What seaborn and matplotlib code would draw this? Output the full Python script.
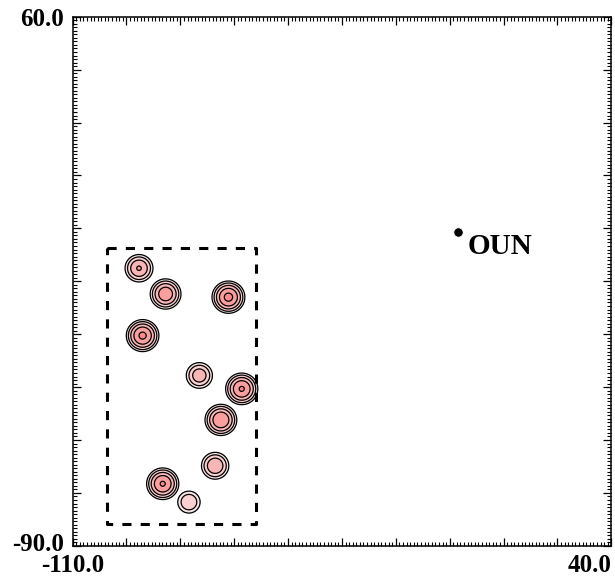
import numpy as np
import seaborn as sns
import matplotlib.pyplot as plt
import matplotlib.transforms as mtransforms
from matplotlib.ticker import MultipleLocator

# storm cells (x, y in km from radar) and peak contour level
cell_x = [-91.5, -84.1, -66.6, -90.5, -74.7, -62.9, -68.7, -70.3, -84.9, -77.6]
cell_y = [-11.3, -18.6, -19.5, -30.4, -41.7, -45.5, -54.3, -67.3, -72.4, -77.6]
cell_peak = [3.08, 3.75, 4.27, 4.2, 2.7, 4.1, 4.0, 2.95, 4.1, 1.97]

# analysis box
box_x = [-100.5, -59.0, -59.0, -100.5, -100.5]
box_y = [-5.6, -5.6, -83.8, -83.8, -5.6]

# radar site
radar_x = [-2.8]
radar_y = [-0.9]
radar_name = "OUN"

x_ticks = list(range(-110, 41, 15))
y_ticks = list(range(-90, 61, 15))

sns.set_style("white")
plt.rcParams.update({
    "font.family": ["Liberation Serif", "DejaVu Serif"],
    "font.weight": "bold",
    "text.color": "black",
    "xtick.color": "black", "ytick.color": "black",
    "xtick.labelcolor": "black", "ytick.labelcolor": "black",
})

fig = plt.figure(figsize=(6.15, 5.77), dpi=100)
ax = fig.add_axes([0.118, 0.054, 0.876, 0.917])

# contour field: each cell falls off quadratically from its peak
gx, gy = np.meshgrid(np.arange(-106, -50, 0.05), np.arange(-88, 0, 0.05))
field = np.full(gx.shape, -10.0)
for cx, cy, p in zip(cell_x, cell_y, cell_peak):
    d2 = (gx - cx) ** 2 + (gy - cy) ** 2
    field = np.maximum(field, p - d2 / 4.9)

fills = ["#f6e6e6", "#fbd0d0", "#f9b6b6", "#fb9e9e", "#ff8b8b"]
ax.contourf(gx, gy, field, levels=[0, 1, 2, 3, 4, 5], colors=fills)
ax.contour(gx, gy, field, levels=[0, 1, 2, 3, 4], colors="black", linewidths=0.9)

ax.plot(box_x, box_y, color="black", linestyle=(0, (3, 3)), linewidth=2.2)

sns.scatterplot(x=radar_x, y=radar_y, color="black", s=45, ax=ax, zorder=5)
ax.annotate(radar_name, (radar_x[0], radar_y[0]), xytext=(7, -11),
            textcoords="offset points", ha="left", va="center",
            fontsize=21, fontweight="bold", color="black")

ax.set_xlim(-110, 40)
ax.set_ylim(-90, 60)
ax.set_xticks(x_ticks, [f"{x_ticks[0]:.1f}"] + [""] * (len(x_ticks) - 2) + [f"{x_ticks[-1]:.1f}"])
ax.set_yticks(y_ticks, [f"{y_ticks[0]:.1f}"] + [""] * (len(y_ticks) - 2) + [f"{y_ticks[-1]:.1f}"])
ax.xaxis.set_minor_locator(MultipleLocator(1))
ax.yaxis.set_minor_locator(MultipleLocator(1))
ax.xaxis.get_majorticklabels()[-1].set_horizontalalignment("right")

ax.tick_params(which="both", direction="in", top=True, right=True,
               bottom=True, left=True, color="black", labelsize=18)
ax.tick_params(which="major", length=5.5, width=0.9)
ax.tick_params(which="minor", length=3, width=0.8)
ax.tick_params(axis="x", pad=6)
ax.tick_params(axis="y", pad=6)
for s in ax.spines.values():
    s.set_linewidth(1.1)
    s.set_color("black")

# nudge the bottom y label up a little so it clears the x label
lab = ax.yaxis.get_majorticklabels()[0]
lab.set_transform(lab.get_transform() + mtransforms.ScaledTranslation(0, 3 / 72, fig.dpi_scale_trans))

fig.savefig("out.png", dpi=100)
